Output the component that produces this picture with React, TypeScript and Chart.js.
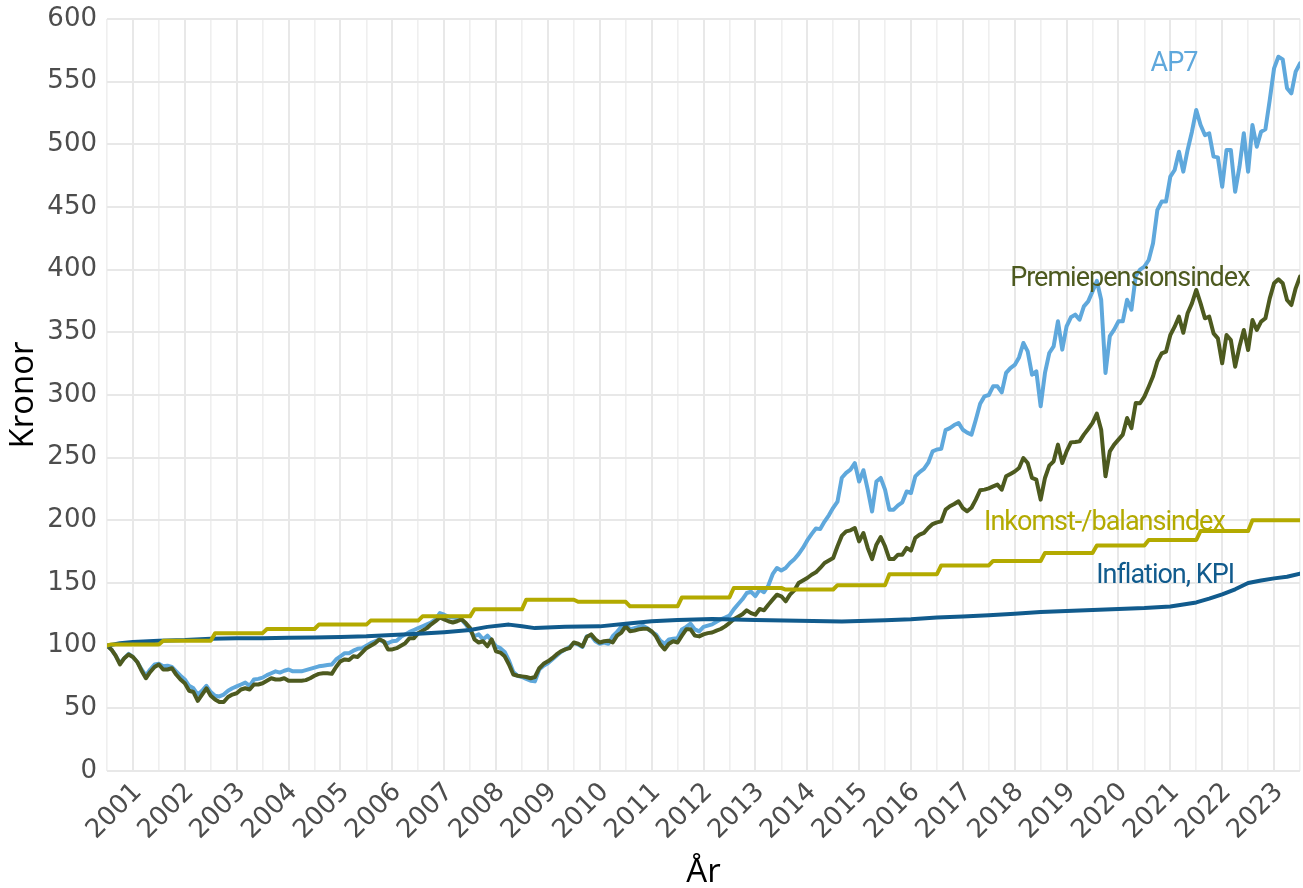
import { useEffect, useRef } from "react";
import { Chart, registerables } from "chart.js";

Chart.register(...registerables);

// ---------- data ----------
// Monthly observations, first one = index 100 at the left edge of the chart
const FIRST_X = 2000.5;
const X_MIN = 2000.5;
const X_MAX = 2023.5;

const ap7Values = [
  100, 97, 92, 86, 90, 93.5, 91, 87, 81, 76, 81, 85,
  85.5, 83.5, 84, 83, 79.5, 76, 73, 68, 66, 61, 64, 68,
  63, 60, 59.5, 61, 64, 66, 67.5, 69, 70.5, 68, 73, 73.5,
  74.5, 76.5, 78, 79.5, 78.5, 80, 81, 79.5, 79.5, 79.5, 80.5, 81.5,
  82.5, 83.5, 84, 84.5, 85, 89, 91.5, 94, 94, 96, 97.5, 98,
  100, 102, 103.5, 105, 103, 102, 103.5, 104, 107, 109, 111, 112.5,
  114, 115.5, 117, 118.5, 121, 126, 124.7, 123, 122.5, 122, 121, 117,
  112, 107.5, 109, 105, 108, 104, 99.5, 98, 95, 88, 79, 76,
  75, 73.5, 72, 71.5, 81, 84, 86, 89, 92, 95, 97, 99,
  102, 101, 99, 107.5, 108, 103.5, 101.5, 102.5, 101.5, 107.5, 111, 115,
  117, 113, 114, 115, 116, 114, 111, 109, 104, 101.5, 105, 105.5,
  106, 113, 115, 117.5, 113, 111.4, 115, 116, 117, 119, 121, 122.5,
  124, 129, 133, 137, 142, 143, 139.5, 144.7, 142.6, 148, 157, 162,
  160, 162, 166, 169, 173, 178, 184, 189, 193.5, 193, 199, 204,
  210, 215, 234, 237.8, 240.4, 245.7, 231, 240, 224.5, 207, 231, 233.8,
  224.5, 208.5, 208.5, 212, 214.4, 223, 221.8, 235, 238.5, 241, 246, 255,
  256.5, 257, 272, 273.6, 276, 277.7, 272.3, 270, 268.4, 280.3, 293, 298.9,
  300, 306.9, 306.9, 302.1, 317.6, 321.5, 324, 330, 341.5, 334.8, 316.2, 318.9,
  291, 317.6, 333.5, 338.8, 358.8, 336.2, 354.8, 362, 364.1, 360.1, 370.7, 374.7,
  382.7, 391, 376, 317.6, 346.9, 352.1, 358.8, 358.8, 376, 368, 395, 400,
  402.4, 407.7, 421, 447.6, 454.3, 454.3, 474.2, 479.5, 494.1, 478.2, 495.5, 510.1,
  527.4, 515.4, 507.4, 508.8, 490.2, 489.6, 466.2, 495.5, 495.5, 462.2, 482.2, 508.8,
  478.2, 515.4, 498.1, 510.1, 512, 535.4, 560.6, 569.9, 567.8, 544.7, 540.7, 558,
  564.6,
];

const premiepensionValues = [
  100, 97, 92, 85, 90, 93, 91, 87, 80, 74, 79, 83,
  85, 81, 81, 82, 77, 73, 70, 64, 63, 56, 61, 66,
  60, 57, 55, 55, 59, 61, 62, 65, 66, 65, 69, 69,
  70, 72, 74, 73, 73, 74, 72, 72, 72, 72, 72.5, 74,
  76, 77.5, 78, 78, 77.5, 83, 87.5, 89, 88.5, 91.5, 91, 94.5,
  98, 100, 102, 105, 103.5, 97, 97, 98, 100, 102, 106, 106,
  110, 112, 114, 117, 119.5, 122.5, 121, 119.5, 118.5, 119.5, 121, 118,
  114, 105, 102.5, 103.5, 99.5, 105, 95.5, 94.5, 91.5, 85, 77, 76,
  75.5, 75, 74, 75, 82, 85.5, 87.5, 90, 93, 95.5, 97, 98,
  102.5, 101.5, 99.5, 107, 109, 105, 102.5, 103.5, 104, 102.5, 108, 110.5,
  115.5, 111.5, 112, 113, 113.5, 113.5, 111.5, 107.5, 101, 97, 101.5, 103.5,
  102.5, 108, 113, 113, 108, 107.4, 109, 110, 110.5, 112, 113.3, 115.4,
  118, 121, 123, 125, 128.2, 126, 124.7, 129.3, 128.2, 132.7, 136.7, 140.7,
  139.4, 135.4, 140.7, 144.1, 150, 152, 154, 156.6, 158.5, 162, 166, 168,
  170, 179.3, 187.8, 191.2, 192, 193.9, 183.2, 189.9, 178, 169.1, 180.6, 186.7,
  179.3, 169.1, 169.1, 172.6, 172.6, 178, 175.9, 186, 188.6, 190, 193.9, 197,
  198.4, 199.2, 208.5, 211.2, 213, 215.2, 209.8, 207.2, 210, 216.5, 224, 224.5,
  225.5, 227.1, 228.5, 224.5, 235.1, 237, 239, 241.8, 249.7, 245.7, 233.8, 232.4,
  216.5, 233.8, 243.6, 247.1, 260.4, 245.7, 255, 262.2, 262.5, 263, 268.4, 272.9,
  277.7, 285.1, 272.3, 235.1, 255, 260.4, 264.4, 268.4, 281.7, 273.6, 293.6, 293.4,
  298.7, 306.6, 315, 326.6, 333.2, 334.6, 347.9, 354.5, 362.5, 349.7, 365.2, 373.1,
  383.8, 373.1, 361.2, 362.5, 349.2, 345.2, 325.3, 347.9, 343.9, 322.6, 338.6, 351.9,
  335.9, 359.8, 351.9, 358.5, 361.2, 377.1, 389.1, 392.3, 389.1, 375.8, 371.8, 385.1,
  394.4,
];

// Income index: one value per year, changes once a year
const inkomstStart = 100;
const inkomstYearValues = [
  101, 104, 110, 113.3, 116.8, 120, 123.4, 129, 136.7, 135, 131.4, 138.5,
  146, 144.8, 148.3, 157, 164, 167.6, 174, 180, 184.3, 191.5, 200,
];

// Inflation (KPI): readings at month indices
const kpiMonths = [
  0, 3, 6, 12, 18, 24, 30, 36, 42, 48, 54, 60, 66, 72, 78, 84, 88, 93, 96, 99,
  106, 114, 120, 126, 132, 140, 150, 160, 170, 180, 186, 192, 198, 204, 210,
  216, 222, 228, 234, 240, 246, 252, 255, 258, 261, 264, 267, 270, 273, 276,
];
const kpiValues = [
  100, 102, 103, 104, 104.5, 105.5, 106, 106, 106.3, 106.6, 107, 107.5, 108.5,
  109.5, 110.8, 112.5, 115, 116.8, 115.5, 114, 115, 115.4, 117.5, 119.4, 120.5,
  121.3, 120.5, 119.8, 119.2, 120.3, 121, 122.4, 123.3, 124.3, 125.5, 126.9,
  127.7, 128.5, 129.3, 130, 131.3, 134.5, 137.5, 141, 145, 150, 152, 153.7,
  155, 157.5,
];

const xLabelYears = [
  2001, 2002, 2003, 2004, 2005, 2006, 2007, 2008, 2009, 2010, 2011, 2012,
  2013, 2014, 2015, 2016, 2017, 2018, 2019, 2020, 2021, 2022, 2023,
];
const yLabelValues = [0, 50, 100, 150, 200, 250, 300, 350, 400, 450, 500, 550, 600];

const seriesNames = ["AP7", "Premiepensionsindex", "Inkomst-/balansindex", "Inflation, KPI"];
const seriesColors = ["#5FA8DC", "#4D5A1F", "#B3AA00", "#115B8D"];
const labelAtX = [2021.07, 2020.22, 2019.73, 2020.9];
const labelAtY = [563.5, 392, 197.5, 155];

const LABEL_FONT = 'Roboto, "Open Sans", sans-serif';
const TICK_FONT = '"DejaVu Sans", "Open Sans", sans-serif';
const TITLE_FONT = '"Open Sans", Roboto, sans-serif';

// ---------- helpers ----------
const monthly = (vals: number[]) => vals.map((v, i) => ({ x: FIRST_X + i / 12, y: v }));

const steppedYearly = () => {
  const pts: { x: number; y: number }[] = [{ x: FIRST_X, y: inkomstStart }];
  inkomstYearValues.forEach((v, i) => {
    pts.push({ x: FIRST_X + i + 1 / 12, y: v });
    pts.push({ x: FIRST_X + i + 1, y: v });
  });
  return pts;
};

const kpiPoints = () => kpiMonths.map((m, i) => ({ x: FIRST_X + m / 12, y: kpiValues[i] }));

const seriesLabelPlugin = {
  id: "seriesLabels",
  afterDatasetsDraw(chart: any) {
    const { ctx, scales } = chart;
    ctx.save();
    ctx.font = `27px ${LABEL_FONT}`;
    if ("letterSpacing" in ctx) (ctx as any).letterSpacing = "-1px";
    ctx.textAlign = "center";
    ctx.textBaseline = "middle";
    seriesNames.forEach((name, i) => {
      ctx.fillStyle = seriesColors[i];
      ctx.fillText(name, scales.x.getPixelForValue(labelAtX[i]), scales.y.getPixelForValue(labelAtY[i]));
    });
    if ("letterSpacing" in ctx) (ctx as any).letterSpacing = "0px";
    ctx.restore();
  },
};

export default function App() {
  const canvasRef = useRef<HTMLCanvasElement | null>(null);

  useEffect(() => {
    document.body.style.margin = "0";
    const canvas = canvasRef.current;
    if (!canvas) return;

    const xTicks: number[] = [];
    for (let v = X_MIN; v <= X_MAX + 1e-9; v += 0.5) xTicks.push(v);
    const yTicks: number[] = [];
    for (let v = 0; v <= 600; v += 25) yTicks.push(v);

    const lineStyle = {
      pointRadius: 0,
      borderWidth: 4,
      tension: 0,
      borderJoinStyle: "round" as const,
      borderCapStyle: "round" as const,
      fill: false,
    };

    const chart = new Chart(canvas, {
      type: "line",
      data: {
        datasets: [
          { label: seriesNames[0], data: monthly(ap7Values), borderColor: seriesColors[0], order: 4, ...lineStyle },
          { label: seriesNames[1], data: monthly(premiepensionValues), borderColor: seriesColors[1], order: 3, ...lineStyle },
          { label: seriesNames[2], data: steppedYearly(), borderColor: seriesColors[2], order: 1, ...lineStyle },
          { label: seriesNames[3], data: kpiPoints(), borderColor: seriesColors[3], order: 2, ...lineStyle },
        ],
      },
      options: {
        animation: false,
        responsive: false,
        devicePixelRatio: 1,
        layout: { padding: { top: 19, right: 3, left: 0, bottom: 0 } },
        plugins: { legend: { display: false }, tooltip: { enabled: false } },
        scales: {
          x: {
            type: "linear",
            min: X_MIN,
            max: X_MAX,
            afterBuildTicks: (axis: any) => {
              axis.ticks = xTicks.map((value) => ({ value }));
            },
            afterFit: (axis: any) => {
              axis.height = 117;
              axis.paddingLeft = 0;
              axis.paddingRight = 0;
            },
            ticks: {
              autoSkip: false,
              minRotation: 45,
              maxRotation: 45,
              padding: 6,
              labelOffset: 5,
              color: "#4D4D4D",
              font: { family: TICK_FONT, size: 26 },
              callback: (v: any) => (xLabelYears.includes(Number(v)) ? String(v) : ""),
            },
            grid: {
              drawTicks: false,
              color: (c: any) => (c.tick && Number.isInteger(c.tick.value) ? "#E8E8E8" : "#EFEFEF"),
              lineWidth: (c: any) => (c.tick && Number.isInteger(c.tick.value) ? 2 : 1.6),
            },
            border: { display: false },
            title: {
              display: true,
              text: "År",
              color: "#000000",
              font: { family: TITLE_FONT, size: 33 },
              padding: { top: 0, bottom: -4 },
            },
          },
          y: {
            type: "linear",
            min: 0,
            max: 600,
            afterBuildTicks: (axis: any) => {
              axis.ticks = yTicks.map((value) => ({ value }));
            },
            afterFit: (axis: any) => {
              axis.width = 107;
              axis.paddingTop = 0;
              axis.paddingBottom = 0;
            },
            ticks: {
              padding: 10,
              color: "#4D4D4D",
              font: { family: TICK_FONT, size: 26 },
              callback: (v: any) => (yLabelValues.includes(Number(v)) ? String(v) : ""),
            },
            grid: {
              drawTicks: false,
              color: (c: any) => (c.tick && c.tick.value % 50 === 0 ? "#E8E8E8" : "#EFEFEF"),
              lineWidth: (c: any) => (c.tick && c.tick.value % 50 === 0 ? 2 : 1.6),
            },
            border: { display: false },
            title: {
              display: true,
              text: "Kronor",
              color: "#000000",
              font: { family: TITLE_FONT, size: 33 },
              padding: { top: 4, bottom: 0 },
            },
          },
        },
      },
      plugins: [seriesLabelPlugin],
    });

    return () => chart.destroy();
  }, []);

  return (
    <div style={{ width: 1303, height: 888 }}>
      <canvas ref={canvasRef} width={1303} height={888} style={{ display: "block" }} />
    </div>
  );
}
